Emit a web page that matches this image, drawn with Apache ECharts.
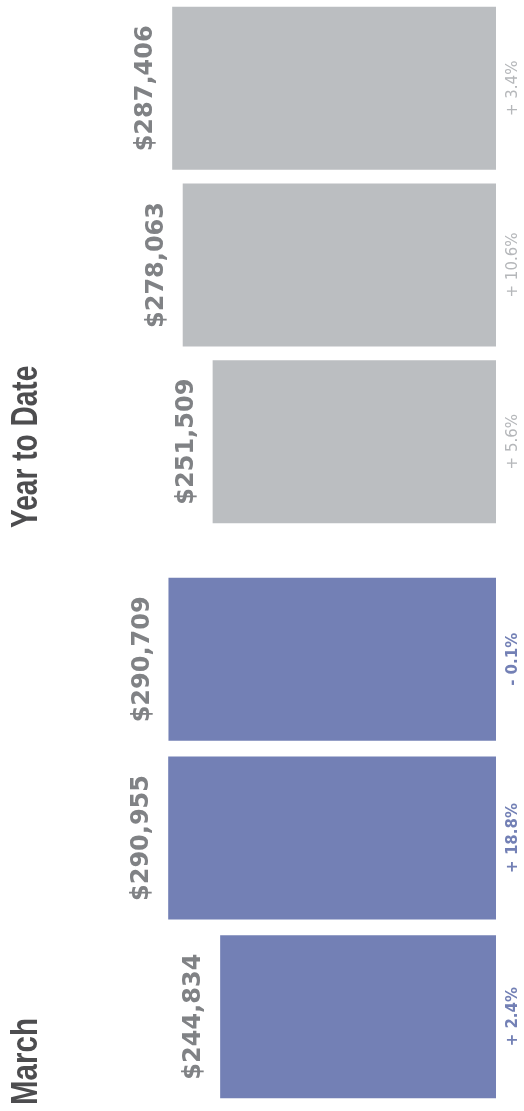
<!DOCTYPE html>
<html>
<head>
<meta charset="utf-8">
<script src="https://cdn.jsdelivr.net/npm/echarts@6/dist/echarts.min.js"></script>
<style>
html,body{margin:0;padding:0;background:#fff;}
#chart{width:524px;height:1111px;}
</style>
</head>
<body>
<div id="chart"></div>
<script>
// ---- data ----
const categories = ['Period 1', 'Period 2', 'Period 3'];
const ytdValues = [251509, 278063, 287406];
const ytdChange = [5.6, 10.6, 3.4];
const marchValues = [244834, 290955, 290709];
const marchChange = [2.4, 18.8, -0.1];
const titles = ['Year to Date', 'March'];

// ---- helpers ----
function fmtMoney(v) { return '$' + Number(v).toLocaleString('en-US'); }
function fmtPct(v) { return (v >= 0 ? '+ ' : '- ') + Math.abs(v).toFixed(1) + '%'; }

const BLUE = '#7380B5';
const GRAY_BAR = '#BBBEC1';
const LABEL_GRAY = '#808285';
const PCT_GRAY = '#B5B7BA';
const TITLE = '#4D4D4F';
const VALUE_FONT = 'DejaVu Sans';
const TITLE_FONT = 'bold 36px "Liberation Sans", Arial, sans-serif';

function valueSeries(idx, values, color) {
  return {
    type: 'bar', xAxisIndex: idx, yAxisIndex: idx,
    data: values, barWidth: 163,
    itemStyle: { color: color },
    label: {
      show: true, position: 'left', rotate: 90, distance: 14,
      align: 'center', verticalAlign: 'bottom',
      fontFamily: VALUE_FONT, fontWeight: 'bold', fontSize: 24, color: LABEL_GRAY,
      formatter: p => fmtMoney(p.value)
    },
    silent: true, z: 2
  };
}
function pctSeries(idx, values, changes, color, weight) {
  return {
    type: 'bar', xAxisIndex: idx, yAxisIndex: idx,
    data: values, barWidth: 163, barGap: '-100%',
    itemStyle: { color: 'rgba(0,0,0,0)' },
    label: {
      show: true, position: 'right', rotate: 90, distance: 10,
      align: 'center', verticalAlign: 'top',
      fontFamily: VALUE_FONT, fontWeight: weight, fontSize: 15, color: color,
      formatter: p => fmtPct(changes[p.dataIndex])
    },
    silent: true, z: 3
  };
}

const chart = echarts.init(document.getElementById('chart'), null, { renderer: 'canvas' });
const axisX = i => ({ gridIndex: i, type: 'value', inverse: true, min: 0, max: 300000, show: false });
const axisY = i => ({ gridIndex: i, type: 'category', data: categories, show: false });

chart.setOption({
  animation: false,
  backgroundColor: '#ffffff',
  grid: [
    { left: 158, width: 338, top: -6, height: 536 },
    { left: 158, width: 338, top: 570, height: 536 }
  ],
  xAxis: [axisX(0), axisX(1)],
  yAxis: [axisY(0), axisY(1)],
  series: [
    valueSeries(0, ytdValues, GRAY_BAR),
    pctSeries(0, ytdValues, ytdChange, PCT_GRAY, 'normal'),
    valueSeries(1, marchValues, BLUE),
    pctSeries(1, marchValues, marchChange, BLUE, 'bold')
  ],
  graphic: [
    {
      type: 'text', x: 9, y: 528, rotation: Math.PI / 2, scaleX: 0.78,
      style: { text: titles[0], font: TITLE_FONT, fill: TITLE, align: 'left', verticalAlign: 'top' }
    },
    {
      type: 'text', x: 9, y: 1105, rotation: Math.PI / 2, scaleX: 0.82,
      style: { text: titles[1], font: TITLE_FONT, fill: TITLE, align: 'left', verticalAlign: 'top' }
    }
  ]
});
</script>
</body>
</html>
